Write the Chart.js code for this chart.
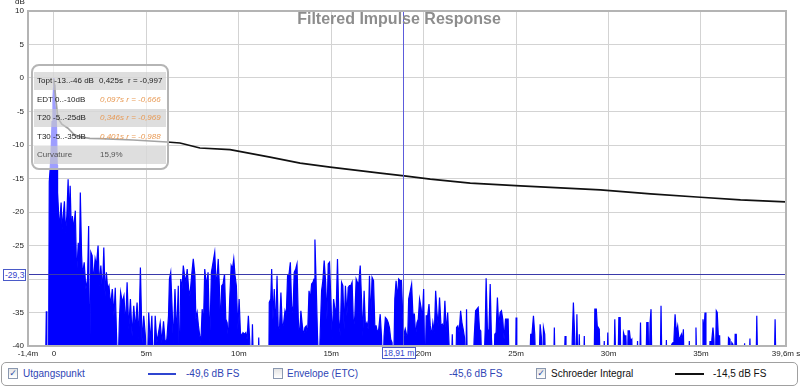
<!DOCTYPE html>
<html><head><meta charset="utf-8">
<script src="https://cdn.jsdelivr.net/npm/chart.js@4.4.1/dist/chart.umd.min.js"></script>
<style>
html,body{margin:0;padding:0;background:#fff;}
#wrap{position:relative;width:800px;height:387px;overflow:hidden;font-family:"Liberation Sans",Arial,sans-serif;}
canvas{position:absolute;left:0;top:0;}
.abs{position:absolute;white-space:nowrap;}
#title{left:0;width:798px;top:11px;text-align:center;font-weight:bold;font-size:16px;line-height:16px;color:#8d8d8d;}
#dbl{left:15px;top:-3px;font-size:8px;line-height:10px;color:#222;}
#info{left:31px;top:64px;width:134px;height:102px;border:2px solid #b5b5b5;border-radius:8px;background:rgba(255,255,255,0.62);}
.row{position:absolute;left:1px;width:132px;height:18px;font-size:8px;line-height:18px;color:#222;}
.row.g{background:rgba(200,200,200,0.6);}
.row span{position:absolute;top:0;}
.or{color:#e89a55;font-style:italic;}
.gr{color:#555;}
#legend{left:1px;top:362px;width:795px;height:22px;border:1px solid #a0a0a0;border-radius:5px;background:#fff;}
.cb{position:absolute;top:5px;width:8px;height:9px;border:1px solid #8a98b0;background:linear-gradient(#e4e4e4,#fff);font-size:9px;line-height:9px;text-align:center;color:#3050a8;font-family:"DejaVu Sans",sans-serif;}
.lt{position:absolute;top:5px;font-size:10px;line-height:12px;}
.ls{position:absolute;top:10px;height:2px;}
.blue{color:#2f45b5;}
.blk{color:#111;}
.clab{position:absolute;background:#fff;border:1px solid #4a5ac8;color:#3344cc;font-size:8.5px;line-height:10px;padding:0 1px;white-space:nowrap;}
</style></head>
<body>
<div id="wrap">
<canvas id="c" width="800" height="387"></canvas>
<div id="title" class="abs">Filtered Impulse Response</div>
<div id="dbl" class="abs">dB</div>
<div id="info" class="abs">
  <div class="row g" style="top:6px"><span style="left:3px">Topt -13..-46 dB</span><span style="left:65px">0,425s</span><span style="left:94px">r = -0,997</span></div>
  <div class="row" style="top:24.5px"><span style="left:3px">EDT 0..-10dB</span><span class="or" style="left:66px">0,097s r = -0,666</span></div>
  <div class="row g" style="top:43px"><span style="left:3px">T20 -5..-25dB</span><span class="or" style="left:66px">0,346s r = -0,969</span></div>
  <div class="row" style="top:61.5px"><span style="left:3px">T30 -5..-35dB</span><span class="or" style="left:66px">0,401s r = -0,988</span></div>
  <div class="row g" style="top:80px"><span class="gr" style="left:3px">Curvature</span><span class="gr" style="left:66px">15,9%</span></div>
</div>
<div id="legend" class="abs">
  <div class="cb" style="left:6px">✓</div>
  <div class="lt blue" style="left:21px">Utgangspunkt</div>
  <div class="ls" style="left:146px;width:28px;background:#2f45d0"></div>
  <div class="lt blue" style="left:184px">-49,6 dB FS</div>
  <div class="cb" style="left:271px"></div>
  <div class="lt blue" style="left:285px">Envelope (ETC)</div>
  <div class="lt blue" style="left:447px">-45,6 dB FS</div>
  <div class="cb" style="left:534px">✓</div>
  <div class="lt blk" style="left:549px">Schroeder Integral</div>
  <div class="ls" style="left:673px;width:29px;background:#111"></div>
  <div class="lt blk" style="left:711px">-14,5 dB FS</div>
</div>
<div id="ylab" class="clab">-29,3</div>
<div id="xlab" class="clab">18,91 m</div>
</div>
<script>
const xTickVals = [-1.4,0,5,10,15,20,25,30,35,39.6];
const xTickLabels = ['-1,4m','0','5m','10m','15m','20m','25m','30m','35m','39,6m s'];
const yTickVals = [10,5,0,-5,-10,-15,-20,-25,-30,-35,-40];
const yTickLabels = ['10','5','0','-5','-10','-15','-20','-25','-30','-35','-40'];

const cursorT = 18.91;
const cursorDb = -29.3;

// Impulse response (dB), time in ms
const impT = [-1.4,-0.5,-0.46,-0.41,-0.38,-0.29,-0.25,-0.2,-0.15,-0.1,-0.05,-0.02,0,0.03,0.06,0.1,0.14,0.18,0.19,
0.21,0.30,0.39,0.45,0.52,0.57,0.63,0.70,0.77,0.82,0.88,0.95,1.00,1.07,1.16,1.23,1.32,1.38,1.43,1.50,1.55,1.64,1.73,1.82,1.88,1.93,2.0,
2.07,2.14,2.23,2.30,2.39,2.46,2.54,2.63,2.70,2.77,2.84,2.91,2.98,3.07,3.16,3.25,3.32,3.39,3.46,3.54,3.61,3.70,3.79,3.88,3.96,
4.05,4.14,4.23,4.32,4.41,4.50,4.59,4.68,4.77,4.86,4.95,5.04,5.13,5.21,5.30,5.39,5.48,5.57,5.66,5.75,5.84,5.93,6.02,6.11,6.20,6.25,
6.32,6.39,6.46,6.55,6.64,6.73,6.79,6.86,6.93,7.00,7.07,7.14,7.21,7.29,7.36,7.45,7.54,7.63,7.68,7.75,7.82,7.89,7.95,8.02,8.09,8.16,
8.25,8.34,8.43,8.52,8.61,8.70,8.79,8.89,8.95,9.01,9.08,9.15,9.23,9.30,9.37,9.44,9.51,9.59,9.66,9.73,9.80,9.87,9.95,10.02,10.09,
10.16,10.23,10.31,10.38,10.45,10.52,10.59,10.67,10.74,10.81,11.03,11.08,11.13,11.62,11.65,11.73,11.78,11.85,11.92,12.00,12.07,
12.14,12.21,12.28,12.36,12.43,12.50,12.57,12.64,12.72,12.79,12.86,12.93,13.00,13.08,13.15,13.22,13.29,13.36,13.44,13.51,13.58,
13.65,13.72,13.80,13.87,13.94,14.01,14.07,14.12,14.19,14.26,14.34,14.41,14.48,14.55,14.62,14.70,14.77,14.84,14.91,14.98,15.06,
15.13,15.20,15.27,15.34,15.42,15.49,15.56,15.63,15.70,15.77,15.85,15.92,15.99,16.06,16.13,16.21,16.28,16.35,16.42,16.49,16.57,
16.64,16.71,16.78,16.85,16.93,17.00,17.07,17.14,17.21,17.29,17.36,17.43,17.50,17.57,17.65,17.72,17.79,17.86,17.93,18.01,18.08,
18.15,18.22,18.29,18.37,18.44,18.51,18.58,18.65,18.73,18.80,18.87,18.94,19.01,19.09,19.14,19.19,19.28,19.35,19.42,19.50,19.57,
19.64,19.71,19.78,19.86,19.93,20.00,20.07,20.14,20.22,20.29,20.36,20.43,20.50,20.58,20.65,20.72,20.79,20.86,20.94,21.01,21.08,
21.15,21.22,21.30,21.37,21.48,21.55,21.62,21.73,21.78,21.85,21.92,22.00,22.07,22.14,22.21,22.28,22.32,22.37,22.66,22.73,22.81,
22.88,22.95,23.02,23.09,23.17,23.24,23.33,23.38,23.45,23.53,23.60,23.67,23.78,23.85,23.92,23.99,24.06,24.14,24.21,24.28,24.35,
24.43,24.50,24.57,24.64,24.97,25.00,25.04,25.72,25.79,25.86,25.94,26.01,26.08,26.22,26.30,26.37,26.44,26.48,26.55,26.62,27.02,
27.07,27.12,27.59,27.65,27.70,27.99,28.04,28.10,28.17,28.24,28.29,28.35,28.42,28.47,28.64,28.69,28.74,29.21,29.26,29.34,29.39,
29.50,29.57,29.71,29.77,29.82,29.91,29.96,30.02,30.29,30.34,30.41,30.50,30.56,30.63,30.68,30.76,30.81,30.86,30.94,31.01,31.06,
31.13,31.19,31.26,31.31,31.51,31.57,31.62,31.67,31.73,31.78,32.01,32.07,32.14,32.19,32.25,32.30,32.36,32.79,32.84,32.90,33.08,
33.13,33.18,33.36,33.42,33.49,33.54,33.60,33.67,33.74,33.81,33.87,33.94,33.99,34.05,34.10,34.32,34.37,34.43,34.68,34.73,34.79,
35.06,35.11,35.16,35.22,35.27,35.43,35.49,35.54,35.59,35.65,35.70,35.77,35.83,35.88,35.94,36.01,36.06,36.44,36.49,36.57,36.62,
36.67,36.73,36.80,36.85,36.91,36.96,37.30,37.36,37.41,37.59,37.65,37.70,37.97,38.02,38.08,38.96,39.01,39.07,39.6];
const impDb = [-45,-45,-45,-34.8,-45,-45,-15.5,-13.5,-11,-6.5,-3,-1.5,0,-1,-4,-5,-7,-13,-45,
-17.1,-22.6,-18.6,-22.6,-20.1,-18.4,-23.1,-20.6,-15.1,-21.1,-16.1,-23.6,-20.6,-22.6,-19.8,-29.5,-24.6,-28,-17.1,-26.5,-29.5,-27.5,-31.5,-30,-22.1,-45,-26,
-26.5,-30.5,-27,-28,-25,-31,-28,-32,-25.3,-32.5,-29,-31.5,-31,-34,-31.5,-35.5,-31.3,-38.5,-45,-36.5,-32,-33.5,-32.5,-37,-30.5,
-37.5,-33,-38.5,-34,-37.5,-33.5,-39,-28.3,-39.5,-35.5,-38.5,-45,-35,-39.5,-35.5,-45,-35.5,-39.5,-38,-36.5,-39.5,-36.3,-39.5,-39,-35.5,-30,
-29,-34,-39.5,-31.5,-38.5,-31,-45,-30,-31.5,-28,-29.5,-30.5,-28.5,-31.5,-32.5,-29.5,-27,-29.5,-36,-35,-37,-38.5,-39.5,-34.5,-37,-28.5,
-31,-29,-39.5,-29,-27.5,-26,-31.5,-27,-31,-37,-31,-30.75,-29.25,-36,-36.5,-39,-33,-28,-28.5,-27,-29.5,-31,-37.5,-33,-38,
-38.5,-38,-38.25,-38,-39,-35.5,-39,-45,-36.75,-45,-45,-38.75,-45,-45,-33.5,-33,-28.5,-36,-31.5,-37.5,-29.5,
-38,-37,-32,-37.5,-36.5,-34.75,-35.5,-29.5,-29.25,-27.5,-34,-35,-29,-28.5,-27.75,-36,-39,-34.75,-37,-38.5,-37.25,
-37,-38.5,-31.75,-33,-30.75,-30.5,-30,-24.1,-31,-38.5,-45,-37.5,-31.75,-30.25,-27.25,-30.5,-36,-27.75,-27.5,-33,-39,
-33,-34.5,-34.5,-27,-36,-38.5,-30.5,-31,-37.5,-31,-35.5,-31.25,-31,-31,-30.5,-37.5,-35.5,-30,-30.5,-30.75,-28,
-33,-38.5,-31.75,-37,-36.5,-37.5,-29.5,-36,-29.75,-30.25,-37,-37,-38,-37.5,-35.25,-38.5,-45,-38.5,-35.75,-36,-36.5,
-37.25,-39,-39.5,-45,-33,-30.25,-33,-30,-30.25,-30.25,-35.5,-38.5,-37.5,-38.5,-38.5,-33,-31.75,-30.75,-35.25,-35.25,-38.5,
-36.5,-36,-33,-34.25,-36,-31.5,-45,-35.5,-35.5,-33.75,-37,-38.5,-36.5,-38,-31.75,-35,-37,-32.75,-37,-36.75,-37.5,
-33.25,-38,-35,-39.5,-45,-38.25,-45,-45,-37.25,-37,-38,-34.75,-36.5,-37.5,-38.75,-45,-34.5,-45,-45,-39,-34.75,
-34.5,-34.25,-37.5,-37.75,-45,-45,-37.5,-29.9,-37.5,-38,-30.75,-39,-45,-38.25,-38,-32.75,-37,-35,-34.75,-36,-39,
-36,-36,-36,-45,-45,-35.75,-45,-45,-38.25,-38.25,-35.5,-38.25,-45,-45,-36.75,-38.75,-45,-37.25,-38.25,-45,-45,
-37.25,-45,-45,-38.5,-45,-45,-38.75,-33.5,-38.5,-45,-35.25,-45,-38.25,-45,-45,-38.5,-45,-45,-34.5,-34.5,-37,
-37.5,-45,-45,-39.25,-45,-45,-38,-45,-45,-36,-45,-45,-35.75,-35.75,-45,-45,-38,-38.5,-38.5,-45,-37.75,
-37.75,-39.25,-39,-45,-45,-39.25,-45,-45,-36.5,-45,-45,-36.5,-36.5,-45,-36.5,-34.5,-45,-45,-34,-45,-45,
-39.1,-45,-45,-39.75,-39.5,-39,-35.25,-38,-37,-39,-38.75,-38.25,-39.25,-37.5,-45,-45,-39.25,-45,-45,-37.25,-45,
-45,-36,-38,-35,-45,-45,-39.25,-45,-39,-37.25,-39,-45,-34.75,-35,-38.5,-38.5,-45,-45,-38.75,-39,-45,
-39.5,-39.75,-45,-38.25,-38.25,-45,-45,-39.6,-45,-45,-38.9,-45,-45,-35.5,-45,-45,-36,-45,-45];

// Schroeder integral (dB)
const schT = [0,0.11,0.22,0.43,0.76,1.08,1.41,1.95,2.49,4.28,6.12,6.82,7.9,9.53,11.69,13.32,14.94,17.65,18.95,20.36,22.52,25.23,27.4,29.56,32.27,34.97,37.14,39.58];
const schDb = [-0.2,-3.3,-6,-6.9,-7.5,-8.4,-8.8,-9,-9.05,-9.25,-9.55,-9.7,-10.45,-10.7,-11.8,-12.7,-13.3,-14.2,-14.6,-15.1,-15.7,-16.1,-16.4,-16.7,-17.3,-17.8,-18.2,-18.5];

const cursorPlugin = {
  id: 'cursor',
  afterDatasetsDraw(chart) {
    const {ctx, chartArea: a, scales: {x, y}} = chart;
    const px = Math.round(x.getPixelForValue(cursorT)) + 0.5;
    const py = Math.round(y.getPixelForValue(cursorDb)) + 0.5;
    ctx.save();
    ctx.lineWidth = 1;
    ctx.strokeStyle = '#3a3aaa';
    ctx.beginPath(); ctx.moveTo(a.left, py); ctx.lineTo(a.right, py); ctx.stroke();
    ctx.strokeStyle = '#5c5cdc';
    ctx.beginPath(); ctx.moveTo(px, a.top); ctx.lineTo(px, a.bottom); ctx.stroke();
    ctx.strokeStyle = '#b4b4b4'; ctx.lineWidth = 2;
    ctx.strokeRect(a.left, a.top, a.right - a.left, a.bottom - a.top);
    ctx.restore();
    const yl = document.getElementById('ylab');
    yl.style.left = '3px';
    yl.style.top = (py - 6) + 'px';
    const xl = document.getElementById('xlab');
    xl.style.left = (px - 22) + 'px';
    xl.style.top = (a.bottom + 1) + 'px';
  }
};

new Chart(document.getElementById('c'), {
  type: 'line',
  data: {
    datasets: [
      {
        label: 'Schroeder Integral',
        data: schT.map((t, i) => ({x: t, y: schDb[i]})),
        borderColor: '#111', borderWidth: 1.7, pointRadius: 0, fill: false, tension: 0, order: 0
      },
      {
        label: 'Utgangspunkt',
        data: impT.map((t, i) => ({x: t, y: impDb[i]})),
        borderColor: '#0000ff', backgroundColor: '#0000ff', borderWidth: 1.2, pointRadius: 0,
        fill: 'start', tension: 0, order: 1
      }
    ]
  },
  options: {
    responsive: false,
    animation: false,
    events: [],
    layout: {padding: {left: 0, right: 14, top: 11, bottom: 0}},
    plugins: {legend: {display: false}, tooltip: {enabled: false}, title: {display: false}},
    scales: {
      x: {
        type: 'linear', min: -1.4, max: 39.6,
        afterBuildTicks: s => { s.ticks = xTickVals.map(v => ({value: v})); },
        afterFit: s => { s.height = 41; s.paddingLeft = 0; s.paddingRight = 0; },
        ticks: {callback: (v, i) => xTickLabels[i], autoSkip: false, maxRotation: 0, minRotation: 0,
                font: {size: 8, family: 'Liberation Sans'}, color: '#222', padding: 3},
        grid: {color: '#d3d3d3', drawTicks: false, lineWidth: 1},
        border: {display: false}
      },
      y: {
        min: -40, max: 10,
        afterBuildTicks: s => { s.ticks = yTickVals.map(v => ({value: v})); },
        afterFit: s => { s.width = 28; s.paddingTop = 0; s.paddingBottom = 0; },
        ticks: {callback: (v, i) => yTickLabels[i], autoSkip: false,
                font: {size: 8, family: 'Liberation Sans'}, color: '#222', padding: 4},
        grid: {color: '#d3d3d3', drawTicks: false, lineWidth: 1},
        border: {display: false}
      }
    }
  },
  plugins: [cursorPlugin]
});
</script>
</body></html>
